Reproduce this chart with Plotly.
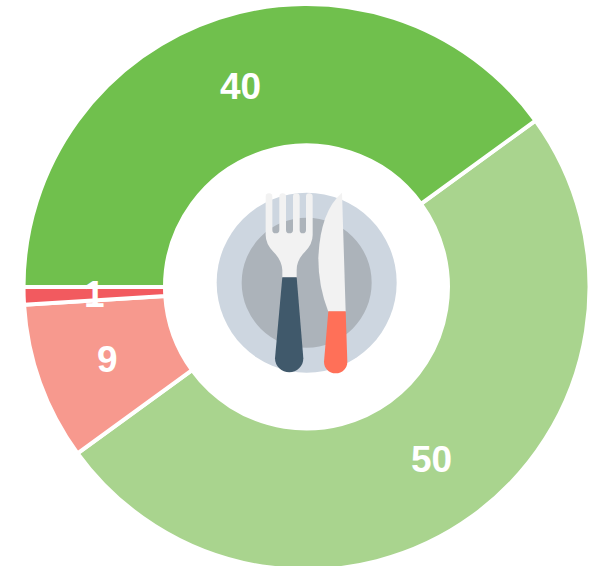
import math
import re
import plotly.graph_objects as go

values = [50, 9, 1, 40]
colors = ["#A9D48E", "#F7998E", "#F25A5F", "#70C04D"]

W, H = 596, 572
CX, CY, R = 306.5, 287.0, 283.0
ROTATION = 54
LABEL_R = 212
LABEL_DY = 1


def zx(v):
    return (190 + v / 3) / W


def zy(v):
    return 1 - (170 + v / 3) / H


def path(d):
    toks = re.findall(r"[A-Za-z]|-?\d+\.?\d*", d)
    out, is_x = [], True
    for t in toks:
        if t.isalpha():
            out.append(t)
            is_x = True
        else:
            out.append(f"{zx(float(t)) if is_x else zy(float(t)):.5f}")
            is_x = not is_x
    return " ".join(out)


def circle(cx, cy, r, color):
    return dict(type="circle", xref="paper", yref="paper", layer="above",
                x0=zx(cx - r), x1=zx(cx + r), y0=zy(cy + r), y1=zy(cy - r),
                fillcolor=color, line_width=0)


def shape(d, color):
    return dict(type="path", xref="paper", yref="paper", layer="above",
                path=path(d), fillcolor=color, line_width=0)


def slice_labels():
    total = sum(values)
    start = ROTATION
    out = []
    for v in values:
        mid = math.radians(start + 180 * v / total)
        start += 360 * v / total
        out.append(dict(
            text=str(v), showarrow=False, xref="paper", yref="paper",
            x=(CX + LABEL_R * math.sin(mid)) / W,
            y=1 - (CY + LABEL_DY - LABEL_R * math.cos(mid)) / H,
            xanchor="center", yanchor="middle",
            font=dict(family="Liberation Sans", size=37, color="white", weight="bold"),
        ))
    return out


FORK = ("M227 80 Q227 70 237 70 Q247 70 247 80 L247 180 Q247 190 257 190 Q268 190 268 180 L268 80 "
        "Q268 70 278 70 Q288 70 288 80 L288 180 Q288 190 298 190 Q309 190 309 180 L309 80 "
        "Q309 70 319 70 Q329 70 329 80 L329 180 Q329 190 338 190 Q348 190 348 180 L348 80 "
        "Q348 70 358 70 Q368 70 368 80 L368 195 Q368 222 345 245 Q320 270 320 300 L320 323 L277 323 "
        "L277 300 Q275 270 250 245 Q227 222 227 195 Z")
FORK_HANDLE = "M277 322 L320 322 L340 565 C340 590 320 607 298 607 C275 607 255 590 255 565 Z"
KNIFE = "M456 68 L467 425 L415 425 Q385 350 385 265 Q390 125 456 68 Z"
KNIFE_HANDLE = "M415 424 L467 424 L472 575 C472 595 457 610 437 610 C417 610 402 595 402 575 Z"

fig = go.Figure(go.Pie(
    values=values,
    textinfo="none",
    marker=dict(colors=colors, line=dict(color="white", width=4)),
    sort=False,
    direction="clockwise",
    rotation=ROTATION,
    hole=0.5,
    showlegend=False,
    hoverinfo="skip",
    domain=dict(x=[(CX - R) / W, (CX + R) / W], y=[1 - (CY + R) / H, 1 - (CY - R) / H]),
))
fig.update_layout(
    width=W, height=H,
    margin=dict(l=0, r=0, t=0, b=0),
    paper_bgcolor="white",
    annotations=slice_labels(),
    shapes=[
        circle(350, 338, 270, "#CDD6E0"),
        circle(350, 338, 195, "#ACB3BA"),
        shape(FORK, "#F2F2F2"),
        shape(FORK_HANDLE, "#40596B"),
        shape(KNIFE, "#F2F2F2"),
        shape(KNIFE_HANDLE, "#FF7058"),
    ],
)
fig.write_html("out.html", config=dict(displayModeBar=False),
               post_script="document.body.style.margin='0';document.documentElement.style.overflow='hidden';document.body.style.overflow='hidden';")
